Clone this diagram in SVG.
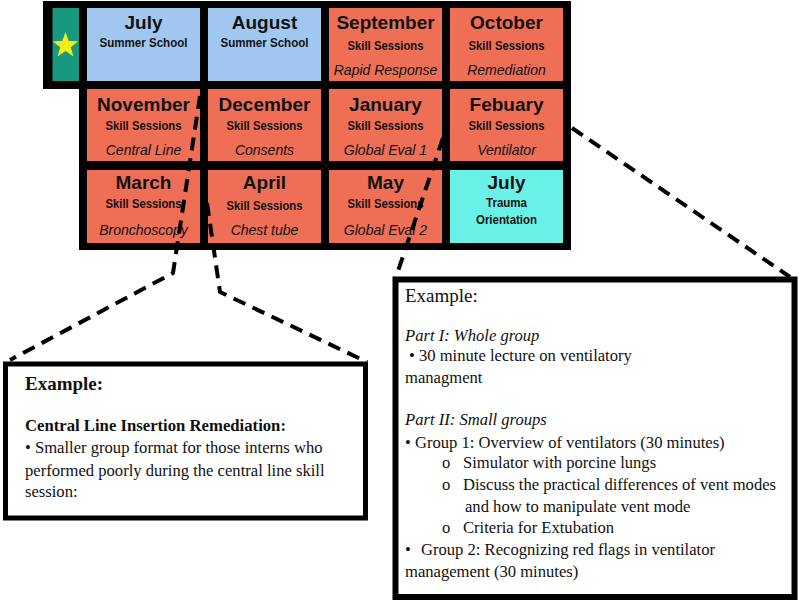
<svg xmlns="http://www.w3.org/2000/svg" width="800" height="602" viewBox="0 0 800 602">
<style>
.cell{stroke:none}
.blue{fill:#a0c7f0}
.red{fill:#ee6f56}
.cyan{fill:#6af1e7}
.mon{font-family:"Liberation Sans",Arial,sans-serif;font-weight:bold;font-size:19px;fill:#111;text-anchor:middle}
.sub{font-family:"Liberation Sans",Arial,sans-serif;font-weight:bold;font-size:13px;fill:#111;text-anchor:middle}
.it{font-family:"Liberation Sans",Arial,sans-serif;font-style:italic;font-size:14px;fill:#111;text-anchor:middle}
.box{fill:#fff;stroke:#000}
.t{font-family:"Liberation Serif","Times New Roman",serif;font-size:16.6px;fill:#111}
.tb{font-weight:bold}
.ti{font-style:italic}
.dash{fill:none;stroke:#000;stroke-width:4;stroke-dasharray:13 8}
</style>
<rect x="0" y="0" width="800" height="602" fill="#fff"/>
<g id="calendar">
<path d="M43,1 H571 V250 H79 V89 H43 Z" fill="#000"/>
<g id="start">
<rect x="52.5" y="8" width="26.5" height="73" fill="#18997f"/>
<polygon points="65.5,32 68.73,41.05 78.34,41.33 70.73,47.2 73.44,56.42 65.5,51 57.56,56.42 60.27,47.2 52.66,41.33 62.27,41.05" fill="#f6ec16"/>
</g>
<g id="july1">
<rect class="cell blue" x="87" y="8" width="113" height="73"/>
<text class="mon" x="143.5" y="28.5">July</text>
<text class="sub" x="143.5" y="46.5" textLength="88" lengthAdjust="spacingAndGlyphs">Summer School</text>
</g>
<g id="august">
<rect class="cell blue" x="208" y="8" width="113" height="73"/>
<text class="mon" x="264.5" y="28.5">August</text>
<text class="sub" x="264.5" y="46.5" textLength="88" lengthAdjust="spacingAndGlyphs">Summer School</text>
</g>
<g id="september">
<rect class="cell red" x="329" y="8" width="113" height="73"/>
<text class="mon" x="385.5" y="28.5">September</text>
<text class="sub" x="385.5" y="50" textLength="76" lengthAdjust="spacingAndGlyphs">Skill Sessions</text>
<text class="it" x="385.5" y="75">Rapid Response</text>
</g>
<g id="october">
<rect class="cell red" x="450" y="8" width="113" height="73"/>
<text class="mon" x="506.5" y="28.5">October</text>
<text class="sub" x="506.5" y="50" textLength="76" lengthAdjust="spacingAndGlyphs">Skill Sessions</text>
<text class="it" x="506.5" y="75">Remediation</text>
</g>
<g id="november">
<rect class="cell red" x="87" y="89" width="113" height="72"/>
<text class="mon" x="143.5" y="111">November</text>
<text class="sub" x="143.5" y="130" textLength="76" lengthAdjust="spacingAndGlyphs">Skill Sessions</text>
<text class="it" x="143.5" y="155">Central Line</text>
</g>
<g id="december">
<rect class="cell red" x="208" y="89" width="113" height="72"/>
<text class="mon" x="264.5" y="111">December</text>
<text class="sub" x="264.5" y="130" textLength="76" lengthAdjust="spacingAndGlyphs">Skill Sessions</text>
<text class="it" x="264.5" y="155">Consents</text>
</g>
<g id="january">
<rect class="cell red" x="329" y="89" width="113" height="72"/>
<text class="mon" x="385.5" y="111">January</text>
<text class="sub" x="385.5" y="130" textLength="76" lengthAdjust="spacingAndGlyphs">Skill Sessions</text>
<text class="it" x="385.5" y="155">Global Eval 1</text>
</g>
<g id="febuary">
<rect class="cell red" x="450" y="89" width="113" height="72"/>
<text class="mon" x="506.5" y="111">Febuary</text>
<text class="sub" x="506.5" y="130" textLength="76" lengthAdjust="spacingAndGlyphs">Skill Sessions</text>
<text class="it" x="506.5" y="155">Ventilator</text>
</g>
<g id="march">
<rect class="cell red" x="87" y="170" width="113" height="73"/>
<text class="mon" x="143.5" y="189">March</text>
<text class="sub" x="143.5" y="208" textLength="76" lengthAdjust="spacingAndGlyphs">Skill Sessions</text>
<text class="it" x="143.5" y="235">Bronchoscopy</text>
</g>
<g id="april">
<rect class="cell red" x="208" y="170" width="113" height="73"/>
<text class="mon" x="264.5" y="189">April</text>
<text class="sub" x="264.5" y="210" textLength="76" lengthAdjust="spacingAndGlyphs">Skill Sessions</text>
<text class="it" x="264.5" y="235">Chest tube</text>
</g>
<g id="may">
<rect class="cell red" x="329" y="170" width="113" height="73"/>
<text class="mon" x="385.5" y="189">May</text>
<text class="sub" x="385.5" y="208" textLength="76" lengthAdjust="spacingAndGlyphs">Skill Sessions</text>
<text class="it" x="385.5" y="235">Global Eval 2</text>
</g>
<g id="july2">
<rect class="cell cyan" x="450" y="170" width="113" height="73"/>
<text class="mon" x="506.5" y="189">July</text>
<text class="sub" x="506.5" y="207" textLength="41" lengthAdjust="spacingAndGlyphs">Trauma</text>
<text class="sub" x="506.5" y="224" textLength="61" lengthAdjust="spacingAndGlyphs">Orientation</text>
</g>
</g>
<g id="connectors">
<polyline class="dash" points="200,96 173,273 10,360"/>
<polyline class="dash" points="207,203 220,292 367,362"/>
<polyline class="dash" points="443,138 395,280"/>
<polyline class="dash" points="572,128 790,277"/>
</g>
<g id="example-left">
<rect class="box" x="5.5" y="364" width="360" height="154" stroke-width="5"/>
<text class="t tb" x="25" y="390" style="font-size:19px">Example:</text>
<text class="t tb" x="25" y="431" style="font-size:16.7px">Central Line Insertion Remediation:</text>
<text class="t" x="25" y="453">• Smaller group format for those interns who</text>
<text class="t" x="25" y="476">performed poorly during the central line skill</text>
<text class="t" x="25" y="497">session:</text>
</g>
<g id="example-right">
<rect class="box" x="395.5" y="279.5" width="399" height="317.5" stroke-width="6"/>
<text class="t" x="405" y="302" style="font-size:19px">Example:</text>
<text class="t ti" x="405" y="341">Part I: Whole group</text>
<text class="t" x="409" y="361">• 30 minute lecture on ventilatory</text>
<text class="t" x="405" y="383">managment</text>
<text class="t ti" x="405" y="425">Part II: Small groups</text>
<text class="t" x="405" y="448">• Group 1: Overview of ventilators (30 minutes)</text>
<text class="t" x="442" y="468">o</text>
<text class="t" x="463" y="468">Simulator with porcine lungs</text>
<text class="t" x="442" y="490">o</text>
<text class="t" x="463" y="490">Discuss the practical differences of vent modes</text>
<text class="t" x="465" y="512">and how to manipulate vent mode</text>
<text class="t" x="442" y="533">o</text>
<text class="t" x="463" y="533">Criteria for Extubation</text>
<text class="t" x="405" y="555">•</text>
<text class="t" x="421" y="555">Group 2: Recognizing red flags in ventilator</text>
<text class="t" x="405" y="577">management (30 minutes)</text>
</g>
</svg>
